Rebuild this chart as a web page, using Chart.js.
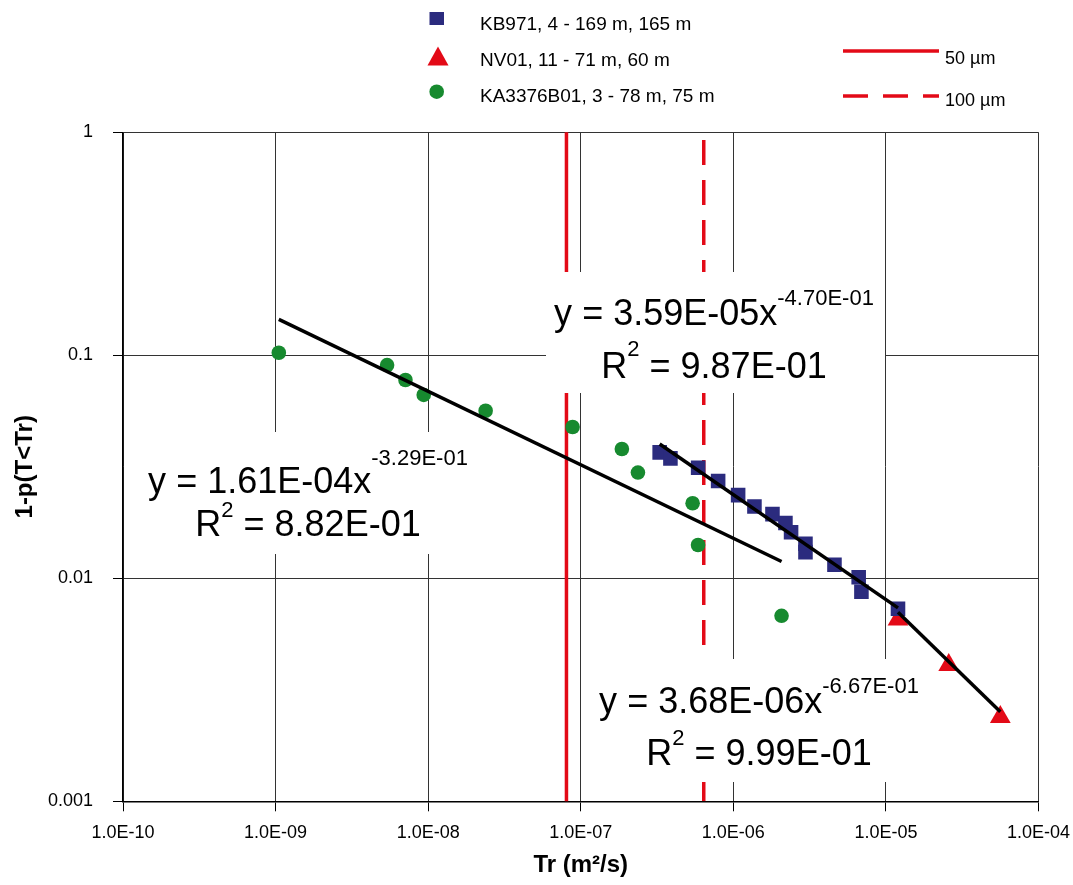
<!DOCTYPE html>
<html>
<head>
<meta charset="utf-8">
<title>Transmissivity distribution</title>
<script src="https://cdn.jsdelivr.net/npm/chart.js@4.4.1/dist/chart.umd.min.js"></script>
<style>
  html, body { margin: 0; padding: 0; background: #fff; }
  canvas { display: block; }
</style>
</head>
<body>
<canvas id="chart" width="1073" height="885"></canvas>
<script>
// Series names
const seriesLabels = ['KB971, 4 - 169 m, 165 m', 'NV01, 11 - 71 m, 60 m', 'KA3376B01, 3 - 78 m, 75 m'];

// KB971 - transmissivity (m2/s) and 1-p(T<Tr)
const kbX = [3.29e-7, 3.87e-7, 5.88e-7, 7.95e-7, 1.075e-6, 1.375e-6, 1.805e-6, 2.195e-6, 2.39e-6, 2.97e-6, 2.97e-6, 4.6e-6, 6.63e-6, 6.91e-6, 1.2e-5];
const kbY = [0.0367, 0.0345, 0.0313, 0.0273, 0.0236, 0.021, 0.0194, 0.0177, 0.0161, 0.0143, 0.0131, 0.0115, 0.0101, 0.0087, 0.0073];

// NV01
const nvX = [1.2e-5, 2.58e-5, 5.62e-5];
const nvY = [0.00653, 0.00409, 0.00239];

// KA3376B01
const kaX = [1.05e-9, 5.38e-9, 7.1e-9, 9.35e-9, 2.38e-8, 8.84e-8, 1.86e-7, 2.37e-7, 5.41e-7, 5.87e-7, 2.07e-6];
const kaY = [0.1027, 0.0904, 0.0775, 0.0664, 0.0564, 0.0477, 0.038, 0.0298, 0.0217, 0.0141, 0.00679];

// Power trendlines, end points
const trendKaX = [1.05e-9, 2.07e-6];
const trendKaY = [0.1448, 0.0119];
const trendKbX = [3.29e-7, 1.2e-5];
const trendKbY = [0.04, 0.00737];
const trendNvX = [1.2e-5, 5.62e-5];
const trendNvY = [0.00704, 0.00252];

// Trendline equations: [equation, exponent, R2]
const eqKa = ['y = 1.61E-04x', '-3.29E-01', ' = 8.82E-01'];
const eqKb = ['y = 3.59E-05x', '-4.70E-01', ' = 9.87E-01'];
const eqNv = ['y = 3.68E-06x', '-6.67E-01', ' = 9.99E-01'];

// Aperture limits drawn as vertical lines
const limitLabels = ['50 µm', '100 µm'];
const limitX = [8.06e-8, 6.4e-7];
const limitY = [1, 0.001];

// Axis ticks
const xTicks = [1e-10, 1e-9, 1e-8, 1e-7, 1e-6, 1e-5, 1e-4];
const xTickLabels = ['1.0E-10', '1.0E-09', '1.0E-08', '1.0E-07', '1.0E-06', '1.0E-05', '1.0E-04'];
const yTicks = [0.001, 0.01, 0.1, 1];
const yTickLabels = ['0.001', '0.01', '0.1', '1'];

const FONT = '"Liberation Sans", Arial, sans-serif';
const NAVY = '#2B2B7E';
const RED = '#E30A17';
const GREEN = '#178A2F';

function pts(xs, ys) {
  return xs.map((x, i) => ({ x: x, y: ys[i] }));
}

// draw a line made of normal and superscript parts, centred on cx
function drawParts(ctx, parts, cx, baseline, raise) {
  let total = 0;
  parts.forEach(p => {
    ctx.font = (p.sup ? '22px ' : '36px ') + FONT;
    p.w = ctx.measureText(p.t).width;
    total += p.w;
  });
  let x = cx - total / 2;
  parts.forEach(p => {
    ctx.font = (p.sup ? '22px ' : '36px ') + FONT;
    ctx.fillText(p.t, x, p.sup ? baseline - raise : baseline);
    x += p.w;
  });
}

// white label boxes with the equations
const eqBoxes = [
  { eq: eqKa, box: [128, 432, 482, 554], cx: 308, base: [493, 536], raise: [28, 19] },
  { eq: eqKb, box: [546, 272, 885, 393], cx: 714, base: [325, 378], raise: [20, 22] },
  { eq: eqNv, box: [585, 659, 935, 782], cx: 759, base: [713, 765], raise: [20, 20] },
];

const labelPlugin = {
  id: 'labels',
  afterDatasetsDraw(chart) {
    const ctx = chart.ctx;
    ctx.save();
    ctx.textBaseline = 'alphabetic';
    eqBoxes.forEach(b => {
      ctx.fillStyle = '#fff';
      ctx.fillRect(b.box[0], b.box[1], b.box[2] - b.box[0], b.box[3] - b.box[1]);
      ctx.fillStyle = '#000';
      drawParts(ctx, [{ t: b.eq[0] }, { t: b.eq[1], sup: true }], b.cx, b.base[0], b.raise[0]);
      drawParts(ctx, [{ t: 'R' }, { t: '2', sup: true }, { t: b.eq[2] }], b.cx, b.base[1], b.raise[1]);
    });
    ctx.restore();
  },
  afterDraw(chart) {
    const ctx = chart.ctx;
    ctx.save();
    // markers
    ctx.fillStyle = NAVY;
    ctx.fillRect(429.5, 12, 14.5, 13);
    ctx.fillStyle = RED;
    ctx.beginPath();
    ctx.moveTo(438, 46.5);
    ctx.lineTo(448.5, 65.5);
    ctx.lineTo(427.5, 65.5);
    ctx.closePath();
    ctx.fill();
    ctx.fillStyle = GREEN;
    ctx.beginPath();
    ctx.arc(436.7, 91.7, 7.3, 0, Math.PI * 2);
    ctx.fill();

    ctx.fillStyle = '#000';
    ctx.font = '19px ' + FONT;
    ctx.textBaseline = 'alphabetic';
    ctx.fillText(seriesLabels[0], 480, 30);
    ctx.fillText(seriesLabels[1], 480, 66);
    ctx.fillText(seriesLabels[2], 480, 102);

    // aperture lines
    ctx.strokeStyle = RED;
    ctx.lineWidth = 3.5;
    ctx.beginPath();
    ctx.moveTo(843, 51);
    ctx.lineTo(939, 51);
    ctx.stroke();
    ctx.setLineDash([25, 15]);
    ctx.beginPath();
    ctx.moveTo(843, 96);
    ctx.lineTo(939, 96);
    ctx.stroke();
    ctx.setLineDash([]);
    ctx.font = '18px ' + FONT;
    ctx.fillText(limitLabels[0], 945, 63.5);
    ctx.fillText(limitLabels[1], 945, 106);
    ctx.restore();
  }
};

const tickFont = { family: FONT, size: 18 };
const titleFont = { family: FONT, size: 24, weight: 'bold' };

new Chart(document.getElementById('chart'), {
  type: 'scatter',
  data: {
    datasets: [
      { label: seriesLabels[0], data: pts(kbX, kbY), pointStyle: 'rect', pointRadius: 10.3, backgroundColor: NAVY, borderColor: NAVY, borderWidth: 0, order: 1 },
      { label: seriesLabels[1], data: pts(nvX, nvY), pointStyle: 'triangle', pointRadius: 12, backgroundColor: RED, borderColor: RED, borderWidth: 0, order: 1 },
      { label: seriesLabels[2], data: pts(kaX, kaY), pointStyle: 'circle', pointRadius: 7.3, backgroundColor: GREEN, borderColor: GREEN, borderWidth: 0, order: 1 },
      { label: 'trend KA', data: pts(trendKaX, trendKaY), showLine: true, pointRadius: 0, borderColor: '#000', borderWidth: 3.5, order: 0 },
      { label: 'trend KB', data: pts(trendKbX, trendKbY), showLine: true, pointRadius: 0, borderColor: '#000', borderWidth: 3.5, order: 0 },
      { label: 'trend NV', data: pts(trendNvX, trendNvY), showLine: true, pointRadius: 0, borderColor: '#000', borderWidth: 3.5, order: 0 },
      { label: limitLabels[0], data: pts([limitX[0], limitX[0]], limitY), showLine: true, pointRadius: 0, borderColor: RED, borderWidth: 3.5, order: 2, clip: 8 },
      { label: limitLabels[1], data: pts([limitX[1], limitX[1]], limitY), showLine: true, pointRadius: 0, borderColor: RED, borderWidth: 3.5, borderDash: [25, 15], borderDashOffset: 32.3, order: 2 },
    ]
  },
  options: {
    responsive: false,
    animation: false,
    events: [],
    layout: { padding: { top: 132.3, right: 34.5, bottom: 0, left: 0 } },
    plugins: { legend: { display: false }, tooltip: { enabled: false } },
    scales: {
      x: {
        type: 'logarithmic',
        min: 1e-10,
        max: 1e-4,
        afterBuildTicks: s => { s.ticks = xTicks.map(v => ({ value: v })); },
        afterFit: s => { s.height = 83.7; s.paddingLeft = 0; s.paddingRight = 0; s.paddingTop = 0; s.paddingBottom = 0; },
        ticks: { callback: (v, i) => xTickLabels[i], autoSkip: false, maxRotation: 0, padding: 11, color: '#000', font: tickFont },
        grid: { color: '#333', lineWidth: 1, tickLength: 10, tickColor: '#000' },
        border: { color: '#000', width: 1.5 },
        title: { display: true, text: 'Tr (m²/s)', color: '#000', font: titleFont, padding: { top: 0, bottom: 5 } }
      },
      y: {
        type: 'logarithmic',
        min: 0.001,
        max: 1,
        afterBuildTicks: s => { s.ticks = yTicks.map(v => ({ value: v })); },
        afterFit: s => { s.width = 123; s.paddingLeft = 0; s.paddingRight = 0; s.paddingTop = 0; s.paddingBottom = 0; },
        ticks: { callback: (v, i) => yTickLabels[i], autoSkip: false, padding: 20, color: '#000', font: tickFont },
        grid: { color: '#333', lineWidth: 1, tickLength: 10, tickColor: '#000' },
        border: { color: '#000', width: 1.5 },
        title: { display: true, text: '1-p(T<Tr)', color: '#000', font: titleFont, padding: { top: 11, bottom: 0 } }
      }
    }
  },
  plugins: [labelPlugin]
});
</script>
</body>
</html>
